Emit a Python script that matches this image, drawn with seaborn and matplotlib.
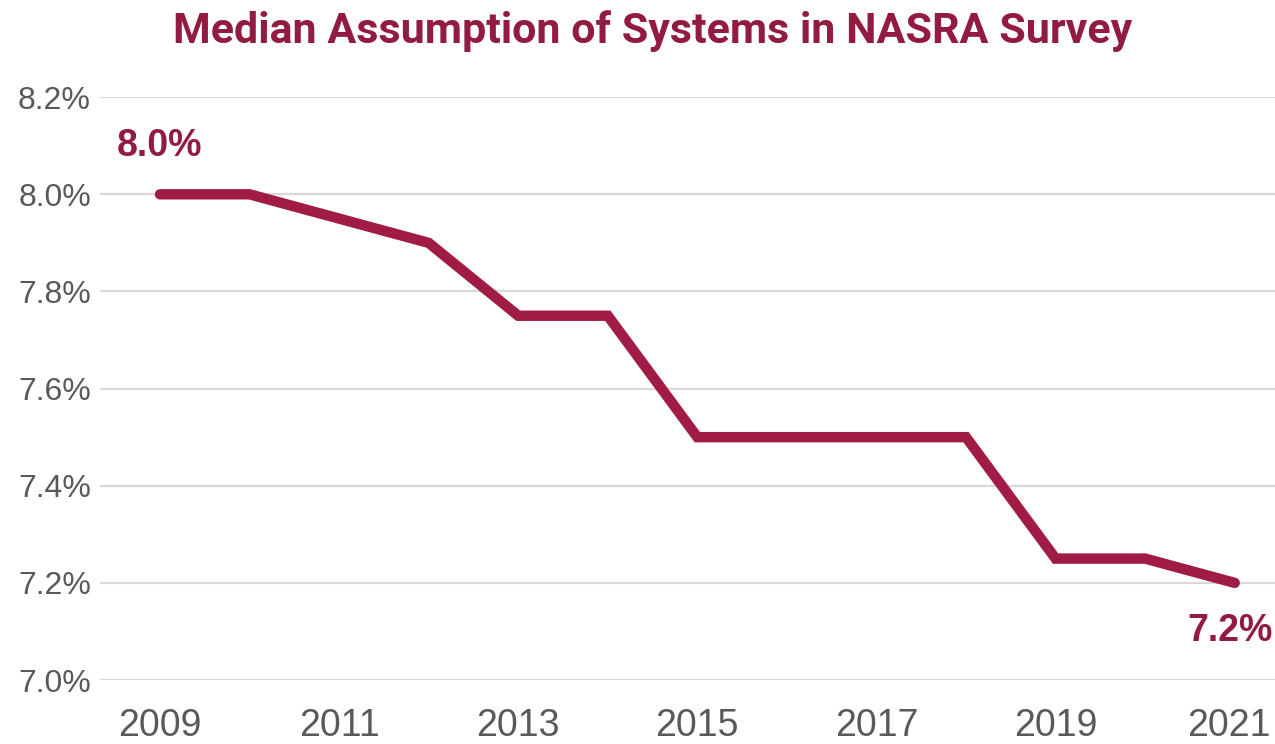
import matplotlib
matplotlib.use("Agg")
import matplotlib.pyplot as plt
import matplotlib.transforms as mtransforms
import seaborn as sns
import pandas as pd
from matplotlib.ticker import FuncFormatter

years = [2009, 2010, 2011, 2012, 2013, 2014, 2015, 2016, 2017, 2018, 2019, 2020, 2021]
rates = [8.0, 8.0, 7.95, 7.9, 7.75, 7.75, 7.5, 7.5, 7.5, 7.5, 7.25, 7.25, 7.2]
xticks = [2009, 2011, 2013, 2015, 2017, 2019, 2021]
yticks = [7.0, 7.2, 7.4, 7.6, 7.8, 8.0, 8.2]
title = "Median Assumption of Systems in NASRA Survey"

sns.set_theme(style="white")
plt.rcParams['font.family'] = ['Liberation Sans', 'DejaVu Sans']

RED = "#A01C45"
TITLE_RED = "#921B40"
GREY = "#595959"

df = pd.DataFrame({"year": years, "rate": rates})

fig = plt.figure(figsize=(12.75, 7.44), dpi=100)
ax = fig.add_axes([0.0784, 0.086, 0.9216, 0.7834])

sns.lineplot(data=df, x="year", y="rate", ax=ax, color=RED, linewidth=7.5,
             solid_capstyle="round", solid_joinstyle="miter", zorder=3)

ax.set_xlim(2008.33, 2021.45)
ax.set_ylim(7.0, 8.2)
ax.set_xticks(xticks)
ax.set_yticks(yticks)
ax.yaxis.set_major_formatter(FuncFormatter(lambda v, p: f"{v:.1f}%"))
ax.grid(axis="y", color="#D9D9D9", linewidth=1.6, zorder=0)
ax.grid(axis="x", visible=False)
for s in ax.spines.values():
    s.set_visible(False)
ax.tick_params(axis="x", labelsize=27, colors=GREY, length=0, pad=20)
ax.tick_params(axis="y", labelsize=23, colors=GREY, length=0, pad=6.5)
ax.set_xlabel("")
ax.set_ylabel("")

# nudge the last year label slightly left so it stays inside the figure
last = ax.get_xticklabels()[-1]
last.set_transform(last.get_transform() +
                   mtransforms.ScaledTranslation(-6 / 100, 0, fig.dpi_scale_trans))

ax.annotate(f"{rates[0]:.1f}%", (years[0], rates[0]), xytext=(0, 35),
            textcoords="offset points", ha="center", va="center",
            fontsize=27, fontweight="bold", color=TITLE_RED)
ax.annotate(f"{rates[-1]:.1f}%", (years[-1], rates[-1]), xytext=(-3, -34.5),
            textcoords="offset points", ha="center", va="center",
            fontsize=27, fontweight="bold", color=TITLE_RED)

fig.text(0.512, 0.958, title, ha="center", va="center", fontsize=31,
         fontweight="bold", color=TITLE_RED, family=["Roboto", "DejaVu Sans"])

fig.savefig("out.png", dpi=100)
